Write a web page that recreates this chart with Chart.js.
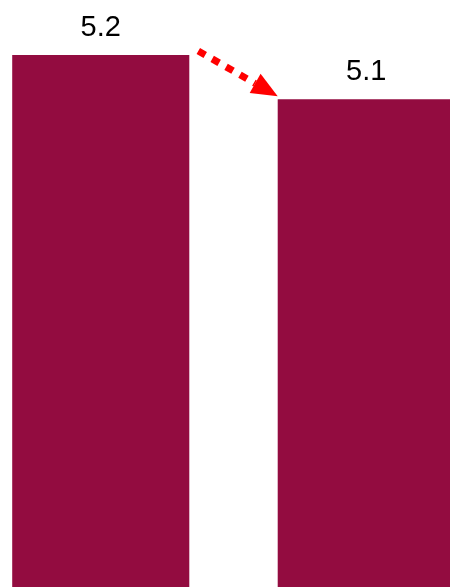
<!DOCTYPE html>
<html lang="en">
<head>
    <meta charset="UTF-8">
    <title>Comparação</title>
    <script src="https://cdn.jsdelivr.net/npm/chart.js"></script>
    <style>
        html, body { margin: 0; padding: 0; background: #fff; overflow: hidden; width: 450px; height: 587px; }
        #wrap { position: absolute; left: -32px; top: 0; width: 531px; height: 587px; }
    </style>
</head>
<body>
    <div id="wrap"><canvas id="chart"></canvas></div>

    <script>
        // Valores das barras
        const categories = ['A', 'B'];
        const values = [5.2, 5.1];
        const valueLabels = ['5.2', '5.1'];

        const barColor = '#930c40';

        // Rótulos acima das barras
        const valueLabelPlugin = {
            id: 'valueLabels',
            afterDatasetsDraw(chart) {
                const ctx = chart.ctx;
                const bars = chart.getDatasetMeta(0).data;
                ctx.save();
                ctx.font = '29px "Liberation Sans", Arial, sans-serif';
                ctx.fillStyle = '#000';
                ctx.textAlign = 'center';
                ctx.textBaseline = 'alphabetic';
                bars.forEach((bar, i) => {
                    ctx.fillText(valueLabels[i], bar.x, bar.y - 19);
                });
                ctx.restore();
            }
        };

        // Seta pontilhada entre as barras
        const arrowPlugin = {
            id: 'dropArrow',
            afterDatasetsDraw(chart) {
                const ctx = chart.ctx;
                const bars = chart.getDatasetMeta(0).data;
                const b1 = bars[0], b2 = bars[1];
                const x0 = b1.x + b1.width / 2 + 9, y0 = b1.y - 4;
                const x1 = b2.x - b2.width / 2, y1 = b2.y - 3;
                const ang = Math.atan2(y1 - y0, x1 - x0);
                const headLen = 26, headW = 11;
                const bx = x1 - headLen * Math.cos(ang), by = y1 - headLen * Math.sin(ang);
                ctx.save();
                ctx.strokeStyle = '#ff0000';
                ctx.fillStyle = '#ff0000';
                ctx.lineWidth = 7;
                ctx.setLineDash([8, 8]);
                ctx.beginPath();
                ctx.moveTo(x0, y0);
                ctx.lineTo(bx, by);
                ctx.stroke();
                ctx.setLineDash([]);
                ctx.beginPath();
                ctx.moveTo(x1, y1);
                ctx.lineTo(bx + headW * Math.sin(ang), by - headW * Math.cos(ang));
                ctx.lineTo(bx - headW * Math.sin(ang), by + headW * Math.cos(ang));
                ctx.closePath();
                ctx.fill();
                ctx.restore();
            }
        };

        new Chart(document.getElementById('chart').getContext('2d'), {
            type: 'bar',
            data: {
                labels: categories,
                datasets: [{
                    data: values,
                    backgroundColor: barColor,
                    borderWidth: 0,
                    barPercentage: 0.667,
                    categoryPercentage: 1
                }]
            },
            options: {
                responsive: true,
                maintainAspectRatio: false,
                animation: false,
                layout: { padding: 0 },
                plugins: {
                    legend: { display: false },
                    tooltip: { enabled: false }
                },
                scales: {
                    x: { display: false },
                    y: { display: false, min: 4, max: 5.324 }
                }
            },
            plugins: [valueLabelPlugin, arrowPlugin]
        });
    </script>
</body>
</html>
